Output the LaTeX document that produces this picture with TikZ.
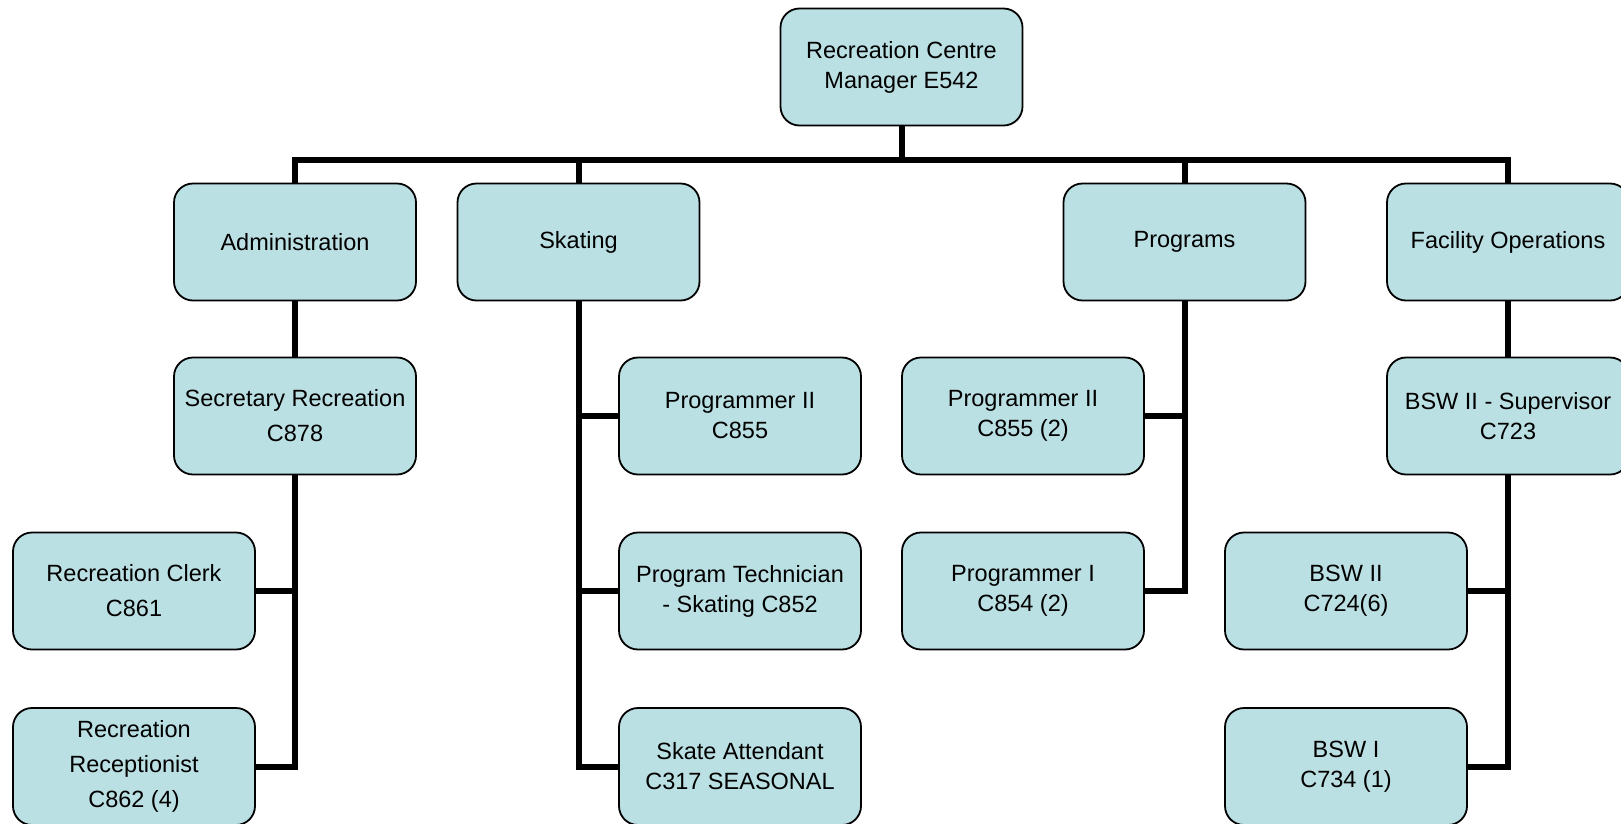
\documentclass[tikz,border=0pt]{standalone}
\usepackage{fontspec}
\setmainfont{Liberation Sans}
\definecolor{boxfill}{RGB}{187,224,227}
\tikzset{
  orgbox/.style={draw=black, line width=1.8pt, fill=boxfill, rounded corners=19pt,
    minimum width=242pt, minimum height=117pt, inner sep=2pt, align=center,
    font=\fontsize{23.5}{30}\selectfont},
  widebox/.style={orgbox, font=\fontsize{23.5}{35}\selectfont},
  link/.style={draw=black, line width=6pt}
}
\begin{document}
\begin{tikzpicture}[x=1pt, y=-1pt]
\useasboundingbox (0,0) rectangle (1621,823);
% level 0
\node[orgbox] (top) at (901.5,67) {Recreation Centre\\Manager E542};
% level 1
\node[orgbox] (adm) at (295,242) {Administration};
\node[orgbox] (ska) at (578.5,242) {Skating};
\node[orgbox] (pro) at (1184.5,242) {Programs};
\node[orgbox] (fac) at (1508,242) {Facility Operations};
% level 2
\node[widebox] (sec) at (295,416) {Secretary Recreation\\C878};
\node[orgbox] (sp2) at (740,416) {Programmer II\\C855};
\node[orgbox] (pp2) at (1023,416) {Programmer II\\C855 (2)};
\node[orgbox] (bsup) at (1508,416) {BSW II - Supervisor\\C723};
% level 3
\node[widebox] (clerk) at (134,591) {Recreation Clerk\\C861};
\node[orgbox] (tech) at (740,591) {Program Technician\\- Skating C852};
\node[orgbox] (pp1) at (1023,591) {Programmer I\\C854 (2)};
\node[orgbox] (bsw2) at (1346,591) {BSW II\\C724(6)};
% level 4
\node[widebox] (recp) at (134,766.5) {Recreation\\Receptionist\\C862 (4)};
\node[orgbox] (att) at (740,766.5) {Skate Attendant\\C317 SEASONAL};
\node[orgbox] (bsw1) at (1346,766.5) {BSW I\\C734 (1)};
% bus
\coordinate (bus) at (0,160);
\draw[link] (adm.north) -- (adm.north |- bus) -- (fac.north |- bus) -- (fac.north);
\draw[link] (top.south) -- (top.south |- bus);
\draw[link] (ska.north) -- (ska.north |- bus);
\draw[link] (pro.north) -- (pro.north |- bus);
% administration
\draw[link] (adm.south) -- (sec.north);
\draw[link] (sec.south) -- (sec.south |- recp.east) -- (recp.east);
\draw[link] (clerk.east) -- (sec.south |- clerk.east);
% skating
\draw[link] (ska.south) -- (ska.south |- att.west) -- (att.west);
\draw[link] (sp2.west) -- (ska.south |- sp2.west);
\draw[link] (tech.west) -- (ska.south |- tech.west);
% programs
\draw[link] (pro.south) -- (pro.south |- pp1.east) -- (pp1.east);
\draw[link] (pp2.east) -- (pro.south |- pp2.east);
% facility
\draw[link] (fac.south) -- (bsup.north);
\draw[link] (bsup.south) -- (bsup.south |- bsw1.east) -- (bsw1.east);
\draw[link] (bsw2.east) -- (bsup.south |- bsw2.east);
\end{tikzpicture}
\end{document}
